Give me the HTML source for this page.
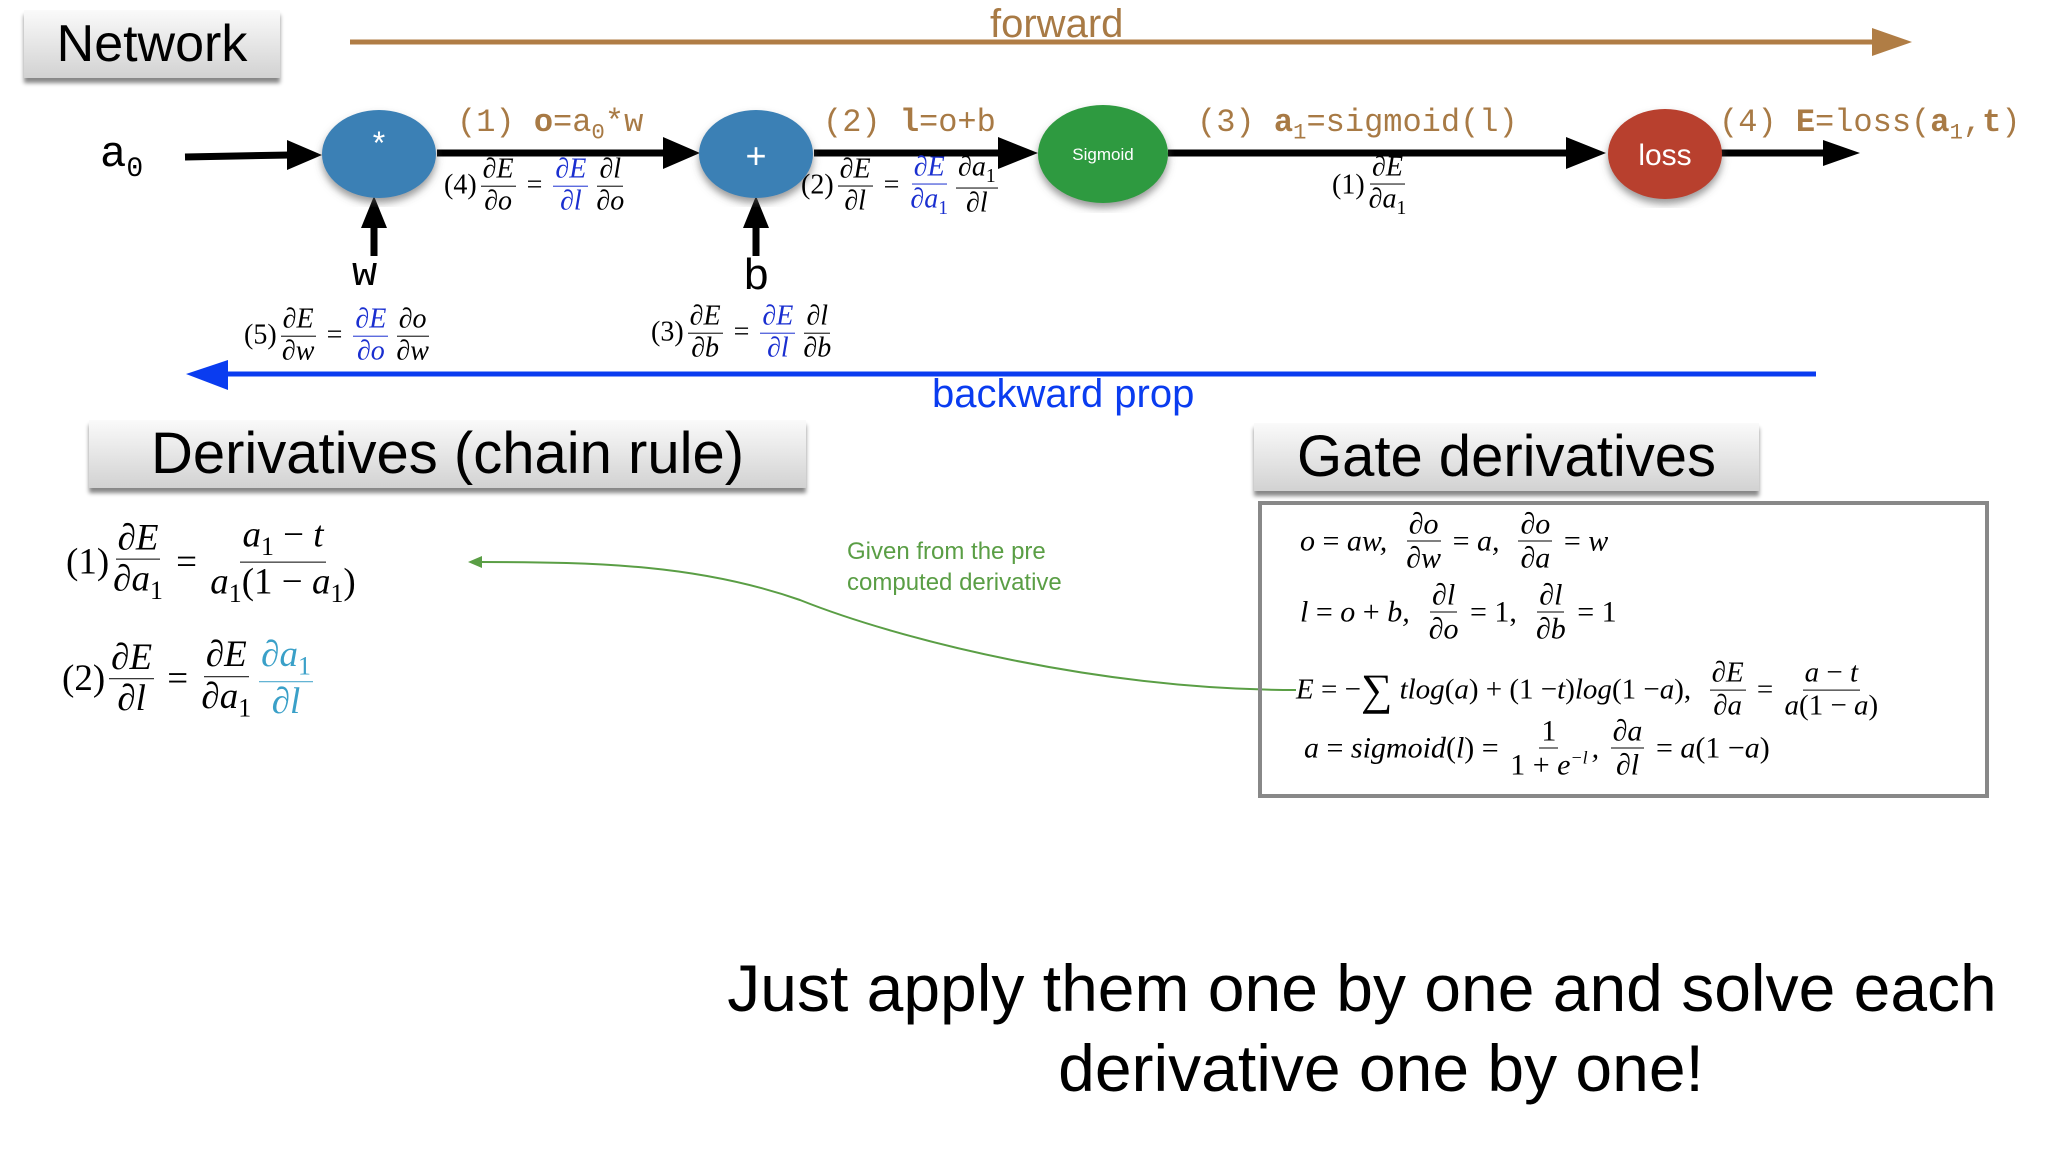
<!DOCTYPE html>
<html><head><meta charset="utf-8"><style>
body{margin:0;width:2048px;height:1152px;background:#fff;position:relative;overflow:hidden;font-family:"Liberation Sans",sans-serif}
.abs{position:absolute}
.hbox{position:absolute;background:linear-gradient(#fafafa,#d2d2d2);box-shadow:0 5px 4px #888;color:#000;text-align:center}
.mono{font-family:"Liberation Mono","DejaVu Sans Mono",monospace}
.lab{position:absolute;font-family:"Liberation Mono","DejaVu Sans Mono",monospace;color:#a87a45;font-size:32px;white-space:nowrap}
.eq{position:absolute;display:flex;align-items:center;font-family:"Liberation Serif",serif;font-style:italic;white-space:nowrap;transform:translateY(-50%)}
.fr{display:inline-flex;flex-direction:column;align-items:center;margin:0 4px;line-height:1.1}
.fr>span:first-child{border-bottom:1.5px solid currentColor;padding:0 2px}
.n{font-style:normal}
.b{color:#1a2fd0}.c{color:#3aa0c8}
sub{font-size:70%}
</style></head><body>
<svg class="abs" style="left:0;top:0" width="2048" height="1152">
<line x1="350" y1="42" x2="1880" y2="42" stroke="#b07d45" stroke-width="5"/>
<path d="M1872,28L1912,42L1872,56z" fill="#b07d45"/>
<line x1="1816" y1="374" x2="225" y2="374" stroke="#0a3cf0" stroke-width="5"/>
<path d="M228,360L186,374L228,390z" fill="#0a3cf0"/>
<g stroke="#000" stroke-width="7">
<line x1="185" y1="157" x2="290" y2="155"/>
<line x1="437" y1="153" x2="665" y2="153"/>
<line x1="814" y1="153" x2="1000" y2="153"/>
<line x1="1168" y1="153" x2="1568" y2="153"/>
<line x1="1721" y1="153" x2="1825" y2="153"/>
<line x1="374" y1="256" x2="374" y2="225"/>
<line x1="756" y1="256" x2="756" y2="225"/>
</g>
<g fill="#000">
<path d="M287,140L322,155L287,170z"/>
<path d="M663,137L700,153L663,169z"/>
<path d="M998,137L1038,153L998,169z"/>
<path d="M1566,137L1606,153L1566,169z"/>
<path d="M1823,140L1860,153L1823,166z"/>
<path d="M361,228L374,196L387,228z"/>
<path d="M743,228L756,196L769,228z"/>
</g>
<defs><filter id="sh"><feDropShadow dx="0" dy="5" stdDeviation="4" flood-color="#555" flood-opacity="0.6"/></filter></defs>
<ellipse cx="379" cy="154" rx="57" ry="44" fill="#3a80b5" filter="url(#sh)"/>
<ellipse cx="756" cy="154" rx="57" ry="44" fill="#3a80b5" filter="url(#sh)"/>
<ellipse cx="1103" cy="154" rx="65" ry="49" fill="#2f9a3f" filter="url(#sh)"/>
<ellipse cx="1665" cy="154" rx="57" ry="45" fill="#b8402e" filter="url(#sh)"/>
<text x="379" y="155" fill="#fff" font-family="Liberation Mono" font-size="32" text-anchor="middle">*</text>
<text x="756" y="168" fill="#fff" font-family="Liberation Sans" font-size="36" text-anchor="middle">+</text>
<text x="1103" y="160" fill="#fff" font-family="Liberation Sans" font-size="17" text-anchor="middle">Sigmoid</text>
<text x="1665" y="165" fill="#fff" font-family="Liberation Sans" font-size="30" text-anchor="middle">loss</text>
<path d="M1296,690 C1100,690 900,640 800,600 C700,565 600,562 480,562" fill="none" stroke="#5a9e45" stroke-width="2"/>
<path d="M482,556L468,562L482,568z" fill="#5a9e45"/>
<rect x="1260" y="503" width="727" height="293" fill="none" stroke="#888" stroke-width="4"/>
</svg>

<div class="hbox" style="left:24px;top:10px;width:256px;height:68px;font-size:52px;line-height:68px">Network</div>
<div class="abs" style="left:990px;top:2px;color:#a87a45;font-size:40px">forward</div>
<div class="abs mono" style="left:100px;top:130px;font-size:44px">a<sub style="font-size:28px">0</sub></div>
<div class="abs mono" style="left:352px;top:250px;font-size:42px">w</div>
<div class="abs" style="left:744px;top:250px;font-size:44px">b</div>
<div class="lab" style="left:457px;top:104px">(1) <b>o</b>=a<sub>0</sub>*w</div>
<div class="lab" style="left:823px;top:104px">(2) <b>l</b>=o+b</div>
<div class="lab" style="left:1197px;top:104px">(3) <b>a</b><sub>1</sub>=sigmoid(l)</div>
<div class="lab" style="left:1719px;top:104px">(4) <b>E</b>=loss(<b>a</b><sub>1</sub>,<b>t</b>)</div>

<div class="eq" style="left:444px;top:186px;font-size:28px"><span class="n">(4)</span><span class="fr"><span>∂E</span><span>∂o</span></span><span class="n">&nbsp;=&nbsp;</span><span class="fr b"><span>∂E</span><span>∂l</span></span><span class="fr"><span>∂l</span><span>∂o</span></span></div>
<div class="eq" style="left:801px;top:186px;font-size:28px"><span class="n">(2)</span><span class="fr"><span>∂E</span><span>∂l</span></span><span class="n">&nbsp;=&nbsp;</span><span class="fr b"><span>∂E</span><span>∂a<sub class="n">1</sub></span></span><span class="fr"><span>∂a<sub class="n">1</sub></span><span>∂l</span></span></div>
<div class="eq" style="left:1332px;top:186px;font-size:28px"><span class="n">(1)</span><span class="fr"><span>∂E</span><span>∂a<sub class="n">1</sub></span></span></div>
<div class="eq" style="left:244px;top:336px;font-size:28px"><span class="n">(5)</span><span class="fr"><span>∂E</span><span>∂w</span></span><span class="n">&nbsp;=&nbsp;</span><span class="fr b"><span>∂E</span><span>∂o</span></span><span class="fr"><span>∂o</span><span>∂w</span></span></div>
<div class="eq" style="left:651px;top:333px;font-size:28px"><span class="n">(3)</span><span class="fr"><span>∂E</span><span>∂b</span></span><span class="n">&nbsp;=&nbsp;</span><span class="fr b"><span>∂E</span><span>∂l</span></span><span class="fr"><span>∂l</span><span>∂b</span></span></div>
<div class="abs" style="left:932px;top:372px;color:#0a3cf0;font-size:40px">backward prop</div>

<div class="hbox" style="left:89px;top:420px;width:717px;height:68px;font-size:58px;line-height:68px">Derivatives (chain rule)</div>
<div class="hbox" style="left:1254px;top:423px;width:505px;height:68px;font-size:58px;line-height:68px">Gate derivatives</div>

<div class="eq" style="left:66px;top:562px;font-size:37px"><span class="n">(1)</span><span class="fr"><span>∂E</span><span>∂a<sub class="n">1</sub></span></span><span class="n">&nbsp;=&nbsp;</span><span class="fr"><span>a<sub class="n">1</sub> <span class="n">−</span> t</span><span>a<sub class="n">1</sub><span class="n">(1 − </span>a<sub class="n">1</sub><span class="n">)</span></span></span></div>
<div class="eq" style="left:62px;top:679px;font-size:37px"><span class="n">(2)</span><span class="fr"><span>∂E</span><span>∂l</span></span><span class="n">&nbsp;=&nbsp;</span><span class="fr"><span>∂E</span><span>∂a<sub class="n">1</sub></span></span><span class="fr c"><span>∂a<sub class="n">1</sub></span><span>∂l</span></span></div>

<div class="abs" style="left:847px;top:536px;color:#5a9e45;font-size:24px;line-height:31px">Given from the pre<br>computed derivative</div>

<div class="eq" style="left:1300px;top:541px;font-size:30px">o <span class="n">&nbsp;=&nbsp;</span> aw,&nbsp;&nbsp;<span class="fr"><span>∂o</span><span>∂w</span></span><span class="n">&nbsp;=&nbsp;</span>a,&nbsp;&nbsp;<span class="fr"><span>∂o</span><span>∂a</span></span><span class="n">&nbsp;=&nbsp;</span>w</div>
<div class="eq" style="left:1300px;top:612px;font-size:30px">l <span class="n">&nbsp;=&nbsp;</span> o <span class="n">&nbsp;+&nbsp;</span> b,&nbsp;&nbsp;<span class="fr"><span>∂l</span><span>∂o</span></span><span class="n">&nbsp;=&nbsp;1,&nbsp;&nbsp;</span><span class="fr"><span>∂l</span><span>∂b</span></span><span class="n">&nbsp;=&nbsp;1</span></div>
<div class="eq" style="left:1296px;top:690px;font-size:29px">E <span class="n">&nbsp;=&nbsp;−</span><span class="n" style="font-size:44px">∑</span>&nbsp;tlog<span class="n">(</span>a<span class="n">) + (1 − </span>t<span class="n">)</span>log<span class="n">(1 − </span>a<span class="n">),&nbsp;&nbsp;</span><span class="fr"><span>∂E</span><span>∂a</span></span><span class="n">&nbsp;=&nbsp;</span><span class="fr"><span>a <span class="n">−</span> t</span><span>a<span class="n">(1 − </span>a<span class="n">)</span></span></span></div>
<div class="eq" style="left:1304px;top:748px;font-size:30px">a <span class="n">&nbsp;=&nbsp;</span> sigmoid<span class="n">(</span>l<span class="n">) =&nbsp;</span><span class="fr"><span class="n">1</span><span><span class="n">1 + </span>e<sup style="font-size:60%">−l</sup></span></span>,&nbsp;<span class="fr"><span>∂a</span><span>∂l</span></span><span class="n">&nbsp;=&nbsp;</span>a<span class="n">(1 − </span>a<span class="n">)</span></div>

<div class="abs" style="left:582px;top:948px;width:1560px;text-align:center;font-size:66px;line-height:80px">Just apply them one by one and solve each</div>
<div class="abs" style="left:601px;top:1028px;width:1560px;text-align:center;font-size:66px;line-height:80px">derivative one by one!</div>
</body></html>
